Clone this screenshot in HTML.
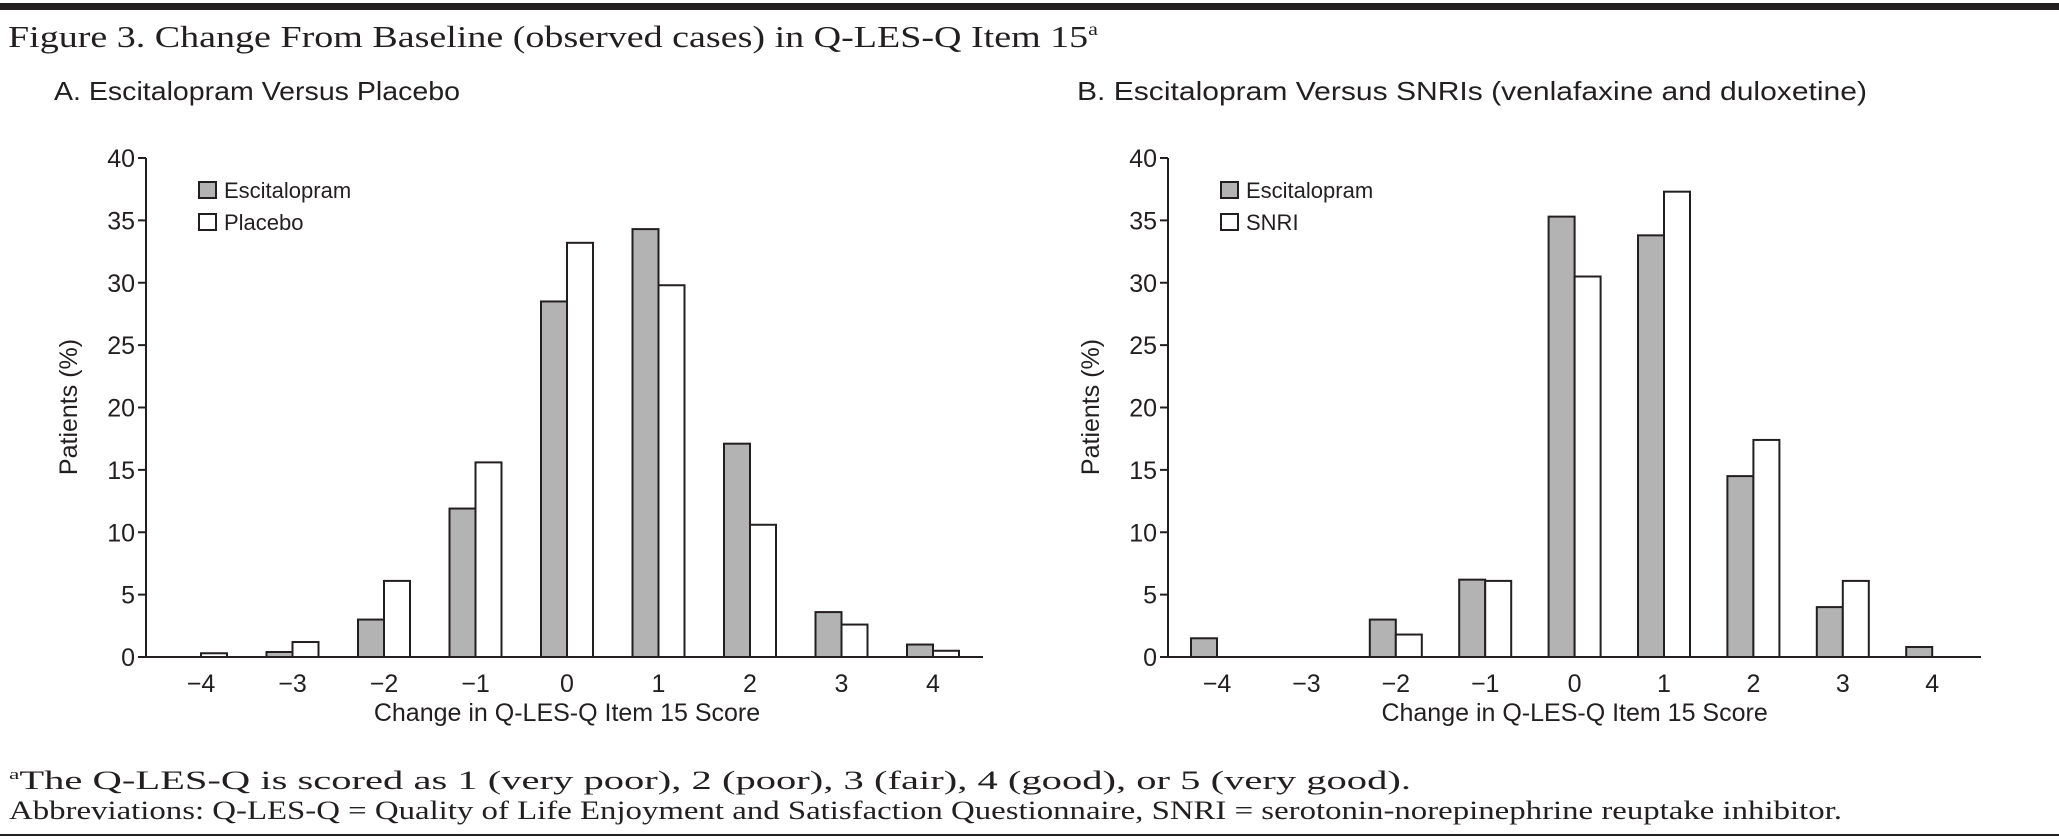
<!DOCTYPE html>
<html><head><meta charset="utf-8"><style>
html,body{margin:0;padding:0;background:#fff;}
svg{display:block;}
text{fill:#231f20;}
.serif{font-family:"Liberation Serif",serif;}
.sans{font-family:"Liberation Sans",sans-serif;}
</style></head><body>
<svg id="fig" width="2059" height="839" viewBox="0 0 2059 839" xmlns="http://www.w3.org/2000/svg">
<rect x="0" y="3" width="2059" height="7" fill="#231f20"/>
<text class="serif" x="8" y="47" font-size="31" textLength="1090" lengthAdjust="spacingAndGlyphs">Figure 3. Change From Baseline (observed cases) in Q-LES-Q Item 15<tspan font-size="18" dy="-12">a</tspan></text>
<text class="sans" x="54" y="100" font-size="26" textLength="406" lengthAdjust="spacingAndGlyphs">A. Escitalopram Versus Placebo</text>
<text class="sans" x="1077" y="100" font-size="26" textLength="790" lengthAdjust="spacingAndGlyphs">B. Escitalopram Versus SNRIs (venlafaxine and duloxetine)</text>
<g id="panelA"></g>
<g id="panelB"></g>
<text class="serif" x="9" y="789" font-size="26" textLength="1402" lengthAdjust="spacingAndGlyphs"><tspan font-size="15" dy="-10">a</tspan><tspan dy="10">The Q-LES-Q is scored as 1 (very poor), 2 (poor), 3 (fair), 4 (good), or 5 (very good).</tspan></text>
<text class="serif" x="9" y="819" font-size="26" textLength="1833" lengthAdjust="spacingAndGlyphs">Abbreviations: Q-LES-Q = Quality of Life Enjoyment and Satisfaction Questionnaire, SNRI = serotonin-norepinephrine reuptake inhibitor.</text>
<rect x="0" y="834" width="2059" height="2" fill="#231f20"/>
</svg>
<script>
const categories = ["\u22124","\u22123","\u22122","\u22121","0","1","2","3","4"];
const yTicks = [0,5,10,15,20,25,30,35,40];
const escA = [0,0.4,3.0,11.9,28.5,34.3,17.1,3.6,1.0];
const placeboA = [0.3,1.2,6.1,15.6,33.2,29.8,10.6,2.6,0.5];
const escB = [1.5,0,3.0,6.2,35.3,33.8,14.5,4.0,0.8];
const snriB = [0,0,1.8,6.1,30.5,37.3,17.4,6.1,0];
const legendA = ["Escitalopram","Placebo"];
const legendB = ["Escitalopram","SNRI"];
const NS="http://www.w3.org/2000/svg";
function mk(tag, attrs, parent){const e=document.createElementNS(NS,tag);for(const k in attrs)e.setAttribute(k,attrs[k]);parent.appendChild(e);return e;}
function drawPanel(g, cfg, s1, s2, legend){
  const y0=657, y40=158;
  const y=v=>y0-(v/40)*(y0-y40);
  const x=i=>cfg.c0+i*cfg.step;
  const bw=26;
  const axY=mk('line',{x1:cfg.ax,y1:y40,x2:cfg.ax,y2:y0,stroke:'#231f20','stroke-width':2},g);
  
  
  const axX=mk('line',{x1:cfg.ax,y1:y0,x2:cfg.xend,y2:y0,stroke:'#231f20','stroke-width':2},g);
  
  
  yTicks.forEach(t=>{
    const tk=mk('line',{x1:cfg.ax-8,y1:y(t),x2:cfg.ax,y2:y(t),stroke:'#231f20','stroke-width':2},g);
    
    
    const tl=mk('text',{x:cfg.ax-11,y:y(t)+9,'font-size':25,'text-anchor':'end','class':'sans'},g);
    tl.textContent=t;
    
    
  });
  categories.forEach((c,i)=>{
    const tl=mk('text',{x:x(i),y:692,'font-size':25,'text-anchor':'middle','class':'sans'},g);
    tl.textContent=c;
    
    
    if(s1[i]>0){
      const b=mk('rect',{x:x(i)-bw,y:y(s1[i]),width:bw,height:y0-y(s1[i]),fill:'#b3b3b3',stroke:'#231f20','stroke-width':2},g);
      
      
    }
    if(s2[i]>0){
      const b=mk('rect',{x:x(i),y:y(s2[i]),width:bw,height:y0-y(s2[i]),fill:'#fff',stroke:'#231f20','stroke-width':2},g);
      
      
    }
  });
  legend.forEach((name,i)=>{
    const bx=mk('rect',{x:cfg.lx,y:182+i*32,width:17,height:16,fill:i===0?'#b3b3b3':'#fff',stroke:'#231f20','stroke-width':2},g);
    
    
    const lt=mk('text',{x:cfg.lx+25,y:198+i*32,'font-size':22,'class':'sans'},g);
    lt.textContent=name;
    
    
  });
  const yl=mk('text',{x:0,y:0,'font-size':25,'text-anchor':'middle','class':'sans',transform:`translate(${cfg.ax-69},407) rotate(-90)`},g);
  yl.textContent='Patients (%)';
  
  
  const xl=mk('text',{x:(cfg.c0+cfg.c0+8*cfg.step)/2,y:721,'font-size':25,'text-anchor':'middle','class':'sans'},g);
  xl.textContent='Change in Q-LES-Q Item 15 Score';
  
  
}
const gA=document.getElementById('panelA');


const gB=document.getElementById('panelB');


drawPanel(gA,{ax:146,xend:983,c0:201,step:91.5,lx:199},escA,placeboA,legendA);
drawPanel(gB,{ax:1168,xend:1981,c0:1217,step:89.4,lx:1221},escB,snriB,legendB);
</script>
</body></html>
